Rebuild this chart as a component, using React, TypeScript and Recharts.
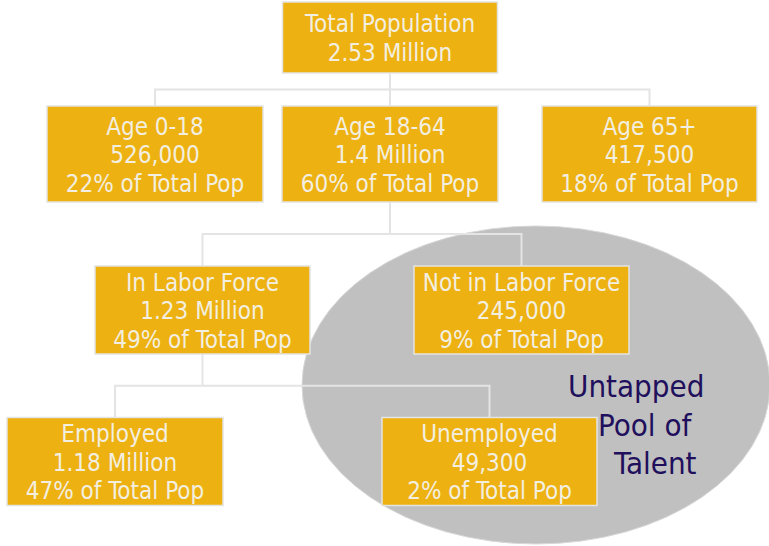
import React from 'react';
import { ScatterChart, Scatter, XAxis, YAxis } from 'recharts';

// tree content
const groups = ['Total Population', 'Age 0-18', 'Age 18-64', 'Age 65+', 'In Labor Force', 'Not in Labor Force', 'Employed', 'Unemployed'];
const counts = ['2.53 Million', '526,000', '1.4 Million', '417,500', '1.23 Million', '245,000', '1.18 Million', '49,300'];
const shares = [null, 22, 60, 18, 49, 9, 47, 2];
const parents = [null, 0, 0, 0, 2, 2, 4, 4];
const calloutLines = ['Untapped', 'Pool of', 'Talent'];

// layout in chart units (x: 0-769, y: 0-546 from top)
const LAYOUT = [
  { x: 390, y: 37.5, w: 215, h: 71 },
  { x: 155, y: 154, w: 216, h: 96 },
  { x: 390, y: 154, w: 216, h: 96 },
  { x: 649.5, y: 154, w: 215, h: 96 },
  { x: 202.5, y: 310, w: 215, h: 88 },
  { x: 521.5, y: 310, w: 215, h: 88 },
  { x: 115, y: 461.5, w: 216, h: 88 },
  { x: 489.5, y: 461.5, w: 215, h: 88 },
];
const POOL = { x: 536, y: 385, rx: 234, ry: 159 };
const CALLOUT_POS = [
  { x: 568, y: 386 },
  { x: 598, y: 425 },
  { x: 614, y: 463 },
];

const GOLD = '#EDB111';
const LINE = '#e4e4e4';
const FONT = "'DejaVu Sans Condensed', 'DejaVu Sans', 'Noto Sans', sans-serif";

const nodes = groups.map((g, i) => ({
  x: LAYOUT[i].x,
  y: LAYOUT[i].y,
  w: LAYOUT[i].w,
  h: LAYOUT[i].h,
  lines: shares[i] == null ? [g, counts[i]] : [g, counts[i], `${shares[i]}% of Total Pop`],
}));

// elbow connectors, one polyline per path
const connectors: { x: number; y: number }[][] = [];
groups.forEach((_, p) => {
  const kids = nodes.filter((_, i) => parents[i] === p);
  if (!kids.length) return;
  const par = nodes[p];
  const parBottom = par.y + par.h / 2;
  const kidTop = kids[0].y - kids[0].h / 2;
  const bus = (parBottom + kidTop) / 2;
  connectors.push([{ x: par.x, y: parBottom }, { x: par.x, y: bus }]);
  const xs = kids.map((k) => k.x);
  const lo = Math.min(...xs);
  const hi = Math.max(...xs);
  connectors.push([
    { x: lo, y: kidTop },
    { x: lo, y: bus },
    { x: hi, y: bus },
    { x: hi, y: kidTop },
  ]);
  kids.forEach((k) => {
    if (k.x !== lo && k.x !== hi) connectors.push([{ x: k.x, y: bus }, { x: k.x, y: kidTop }]);
  });
});

const callout = calloutLines.map((t, i) => ({ ...CALLOUT_POS[i], text: t }));

const NoDot = () => <g />;

const PoolShape = (props: any) => (
  <ellipse cx={props.cx} cy={props.cy} rx={POOL.rx} ry={POOL.ry} fill="#c0c0c0" stroke="#d8d8d8" strokeWidth={1} />
);

const NodeBox = (props: any) => {
  const { cx, cy, payload } = props;
  const { w, h, lines } = payload;
  return (
    <g>
      <rect x={cx - w / 2} y={cy - h / 2} width={w} height={h} fill={GOLD} stroke={LINE} strokeWidth={1.5} />
      {lines.map((t: string, i: number) => (
        <text
          key={i}
          x={cx}
          y={cy + (i - (lines.length - 1) / 2) * 28.5 + 1}
          textAnchor="middle"
          dominantBaseline="central"
          fill="#f3efe0"
          fontSize={24}
          fontFamily={FONT}
        >
          {t}
        </text>
      ))}
    </g>
  );
};

const CalloutText = (props: any) => (
  <text
    x={props.cx}
    y={props.cy}
    dominantBaseline="central"
    fill="#200f5c"
    fontSize={31}
    fontFamily={FONT}
  >
    {props.payload.text}
  </text>
);

export default function App() {
  return (
    <div style={{ position: 'absolute', left: 0, top: 0, width: 769, height: 546, background: '#fff' }}>
      <ScatterChart width={769} height={546} margin={{ top: 0, right: 0, bottom: 0, left: 0 }}>
        <XAxis type="number" dataKey="x" domain={[0, 769]} hide allowDataOverflow />
        <YAxis type="number" dataKey="y" domain={[0, 546]} reversed hide allowDataOverflow />
        <Scatter data={[{ x: POOL.x, y: POOL.y }]} shape={PoolShape} isAnimationActive={false} />
        {connectors.map((pts, i) => (
          <Scatter
            key={`c${i}`}
            data={pts}
            line={{ stroke: LINE, strokeWidth: 2 }}
            shape={NoDot}
            isAnimationActive={false}
          />
        ))}
        <Scatter data={nodes} shape={NodeBox} isAnimationActive={false} />
        <Scatter data={callout} shape={CalloutText} isAnimationActive={false} />
      </ScatterChart>
    </div>
  );
}
